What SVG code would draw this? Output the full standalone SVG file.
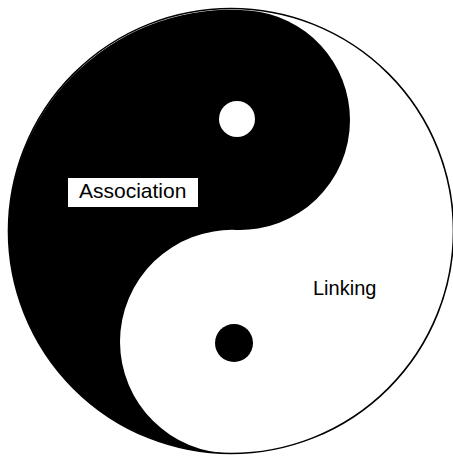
<svg xmlns="http://www.w3.org/2000/svg" width="453" height="457" viewBox="0 0 453 457">
<defs>
<style>
.lbl{font-family:"Liberation Sans",Arial,sans-serif;fill:#000}
</style>
</defs>
<rect width="453" height="457" fill="#fff"/>
<g id="yinyang">
<circle cx="231" cy="231" r="222.5" fill="#fff"/>
<path d="M 248.9,10.4 A 110 110 0 0 1 350,120 A 110 110 0 0 1 236.04,229.93 A 112 112 0 0 0 120,342 A 112 112 0 0 0 232,453.5 A 222.5 222.5 0 0 1 8.5,231 A 222.5 222.5 0 0 1 248.9,10.4 Z" fill="#000"/>
<circle cx="231" cy="231" r="222.5" fill="none" stroke="#000" stroke-width="1.6"/>
<circle cx="237" cy="119" r="18" fill="#fff"/>
<circle cx="234" cy="343" r="19" fill="#000"/>
</g>
<g id="association">
<rect x="68" y="178" width="130" height="29" fill="#fff"/>
<text class="lbl" x="79" y="198" font-size="21">Association</text>
</g>
<g id="linking">
<text class="lbl" x="313" y="295" font-size="20">Linking</text>
</g>
<g id="connectors"/>
</svg>
